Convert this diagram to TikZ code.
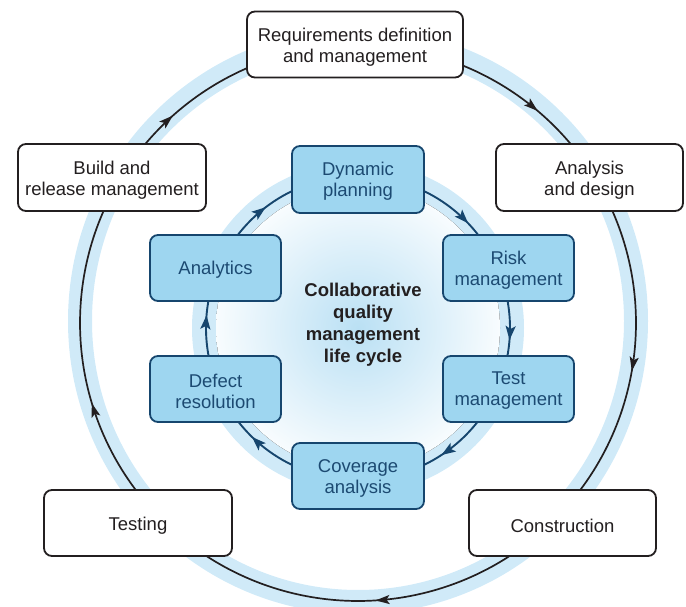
\documentclass[tikz,border=0pt]{standalone}
\usepackage{fontspec}
\setmainfont{Liberation Sans}
\usetikzlibrary{arrows.meta,decorations.markings}

\definecolor{ringblue}{RGB}{208,234,248}
\definecolor{boxblue}{RGB}{158,214,240}
\definecolor{navy}{RGB}{22,70,110}
\definecolor{navytext}{RGB}{28,74,114}
\definecolor{inkgray}{RGB}{35,31,32}
\definecolor{discmid}{RGB}{186,224,244}
\definecolor{discedge}{RGB}{248,252,254}

\tikzset{
  lifebox/.style={draw=inkgray, line width=1.8pt, fill=white, rounded corners=8pt,
    inner sep=0pt},
  lifetext/.style={align=center, text=inkgray, inner sep=0pt,
    font=\fontsize{18.5}{21}\selectfont},
  qualbox/.style={draw=navy, line width=1.8pt, fill=boxblue, rounded corners=8pt,
    inner sep=0pt, minimum width=131pt, minimum height=66pt},
  qualtext/.style={align=center, text=navytext, inner sep=0pt,
    font=\fontsize{18.5}{21}\selectfont},
  outerflow/.style={draw=inkgray, line width=1.7pt,
    postaction={decorate, decoration={markings,
      mark=at position #1 with {\arrow{Stealth[length=14pt,width=9pt,inset=3pt]}}}}},
  innerflow/.style={draw=navy, line width=1.9pt,
    postaction={decorate, decoration={markings,
      mark=at position #1 with {\arrow{Stealth[length=14pt,width=10pt,inset=3pt]}}}}},
}

\begin{document}
\begin{tikzpicture}[x=1pt, y=1pt]
  \useasboundingbox (0,0) rectangle (686,606);

  % centres of the two cycles
  \coordinate (O) at (358,283);
  \coordinate (RingC) at (358,285);
  \coordinate (IC) at (358,278);

  % outer pale ring
  \draw[ringblue, line width=24pt] (RingC) ellipse [x radius=278, y radius=281];

  % outer life-cycle arcs (clockwise)
  \draw[outerflow=0.70] (O) ++(90.6:278)  arc[start angle=90.6,  end angle=32.2,   radius=278];
  \draw[outerflow=0.55] (O) ++(32.2:278)  arc[start angle=32.2,  end angle=-44.4,  radius=278];
  \draw[outerflow=0.45] (O) ++(-44.4:278) arc[start angle=-44.4, end angle=-137.7, radius=278];
  \draw[outerflow=0.35] (O) ++(222.3:278) arc[start angle=222.3, end angle=149.4,  radius=278];
  \draw[outerflow=0.30] (O) ++(149.4:278) arc[start angle=149.4, end angle=90.6,   radius=278];

  % inner pale band and shaded disc
  \draw[ringblue, line width=24pt] (IC) circle[radius=154];
  \fill[inner color=discmid, outer color=discedge] (IC) circle[radius=142];

  % inner quality-management arcs (clockwise)
  \draw[innerflow=0.68] (IC) ++(90:152)   arc[start angle=90,   end angle=21.7,  radius=152];
  \draw[innerflow=0.60] (IC) ++(21.7:152) arc[start angle=21.7, end angle=-22,   radius=152];
  \draw[innerflow=0.51] (IC) ++(-22:152)  arc[start angle=-22,  end angle=-90,   radius=152];
  \draw[innerflow=0.65] (IC) ++(-90:152)  arc[start angle=-90,  end angle=-158,  radius=152];
  \draw[innerflow=0.61] (IC) ++(202:152)  arc[start angle=202,  end angle=158,   radius=152];
  \draw[innerflow=0.45] (IC) ++(158:152)  arc[start angle=158,  end angle=90,    radius=152];

  % outer life-cycle stages
  \node[lifebox, minimum width=216pt, minimum height=66pt] (req) at (355,561.5) {};
  \node[lifebox, minimum width=187pt, minimum height=67pt] (ana) at (589.5,428.5) {};
  \node[lifebox, minimum width=187pt, minimum height=66pt] (con) at (562.5,83) {};
  \node[lifebox, minimum width=188pt, minimum height=66pt] (tst) at (138,83) {};
  \node[lifebox, minimum width=188pt, minimum height=67pt] (bld) at (112,428.5) {};

  \node[lifetext] (req-t) at ([yshift=-2.5pt]req.center) {Requirements definition\\and management};
  \node[lifetext] (ana-t) at ([yshift=-2.5pt]ana.center) {Analysis\\and design};
  \node[lifetext] (con-t) at ([yshift=-2.5pt]con.center) {Construction};
  \node[lifetext] (tst-t) at ([yshift=-2.5pt]tst.center) {Testing};
  \node[lifetext] (bld-t) at ([yshift=-2.5pt]bld.center) {Build and\\release management};

  % inner quality-management stages
  \node[qualbox, minimum width=132pt, minimum height=67pt] (dyn) at (358,426.5) {};
  \node[qualbox] (risk) at (508.5,338) {};
  \node[qualbox] (testm) at (508.5,217) {};
  \node[qualbox, minimum width=132pt] (cov) at (358,130) {};
  \node[qualbox] (dfct) at (215.5,217) {};
  \node[qualbox] (anl) at (215.5,338) {};

  \node[qualtext] (dyn-t) at ([yshift=-2pt]dyn.center) {Dynamic\\planning};
  \node[qualtext] (risk-t) at ([yshift=-2pt]risk.center) {Risk\\management};
  \node[qualtext] (testm-t) at ([yshift=-2pt]testm.center) {Test\\management};
  \node[qualtext] (cov-t) at ([yshift=-2pt]cov.center) {Coverage\\analysis};
  \node[qualtext] (dfct-t) at ([yshift=-2pt]dfct.center) {Defect\\resolution};
  \node[qualtext] (anl-t) at ([yshift=-2pt]anl.center) {Analytics};

  % title in the middle
  \node[align=center, text=inkgray, font=\bfseries\fontsize{18.5}{22}\selectfont] (title) at (363,281)
    {Collaborative\\quality\\management\\life cycle};
\end{tikzpicture}
\end{document}
